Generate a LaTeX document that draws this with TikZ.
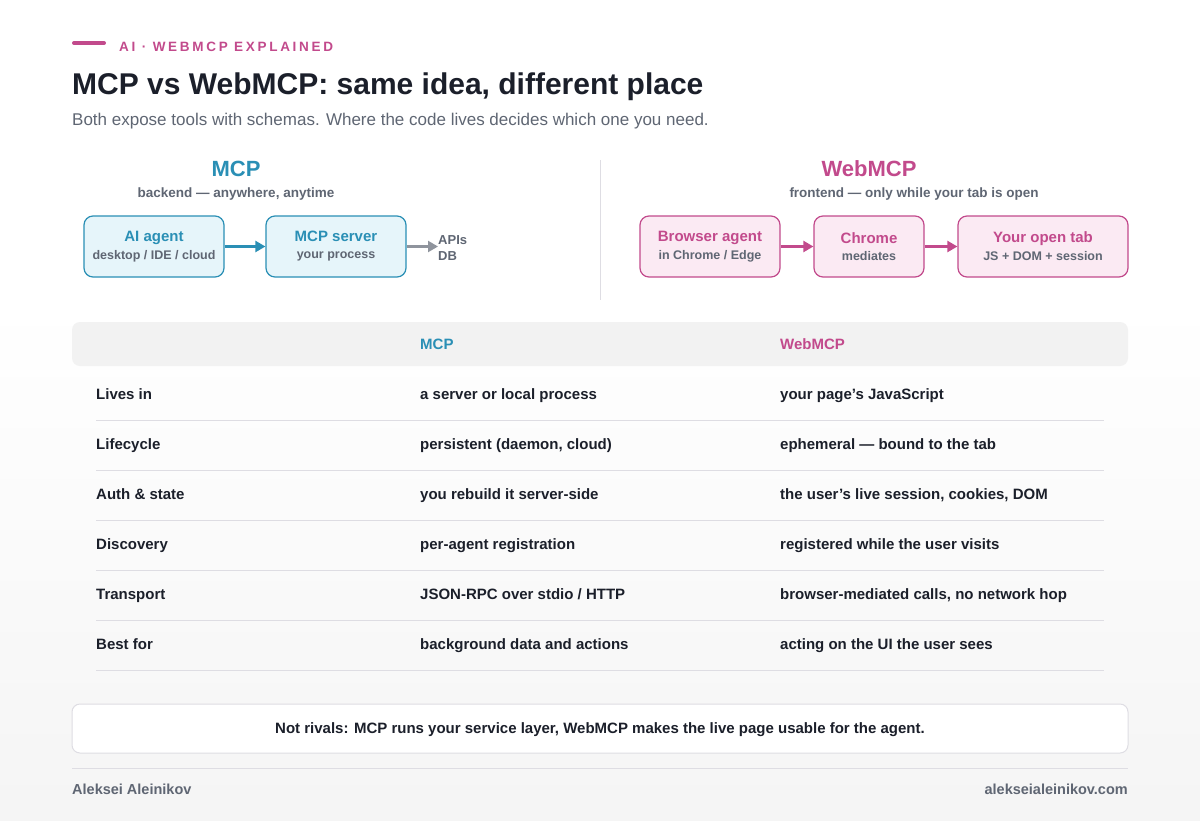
\documentclass[tikz,border=0pt]{standalone}
\usepackage{fontspec}
\setmainfont{Liberation Sans}
\newfontfamily\spaced[LetterSpace=20]{Liberation Sans}
\usetikzlibrary{positioning,arrows.meta}
\definecolor{ink}{HTML}{1B1F2A}
\definecolor{grey}{HTML}{5F6673}
\definecolor{teal}{HTML}{2A8FB5}
\definecolor{tealbg}{HTML}{E6F5FA}
\definecolor{pink}{HTML}{C24A8C}
\definecolor{pinkbg}{HTML}{FBEAF3}
\definecolor{rule}{HTML}{DEDDE3}
\tikzset{
  box/.style={draw=#1, line width=1.2pt, rounded corners=9pt, minimum height=61pt, align=center, inner sep=0pt},
  flow/.style={-{Triangle[length=10pt,width=11pt]}, line width=2.2pt},
  cell/.style={anchor=west, font=\bfseries\fontsize{15}{18}\selectfont, text=ink, inner sep=0pt, text height=11pt, text depth=3pt},
}
\begin{document}
\begin{tikzpicture}[x=1pt,y=-1pt]
  \fill[white] (0,0) rectangle (1200,820);
  \shade[top color=white, bottom color=black!4!white] (0,300) rectangle (1200,820);
  \useasboundingbox (0,0) rectangle (1200,820);

  % header
  \draw[pink, line width=4pt, line cap=round] (74,43) -- (104,43);
  \node[anchor=west, text=pink, font=\spaced\bfseries\fontsize{13.5}{16}\selectfont, inner sep=0pt] (kicker) at (119,47) {AI · WEBMCP EXPLAINED};
  \node[anchor=west, text=ink, font=\bfseries\fontsize{30}{36}\selectfont, inner sep=0pt] (title) at (72,87) {MCP vs WebMCP: same idea, different place};
  \node[anchor=west, text=grey, font=\fontsize{17}{20}\selectfont, inner sep=0pt] (sub) at (72,121) {Both expose tools with schemas. Where the code lives decides which one you need.};

  % MCP side
  \node[text=teal, font=\bfseries\fontsize{22}{26}\selectfont] (mcph) at (236,169) {MCP};
  \node[text=grey, font=\bfseries\fontsize{13.5}{16}\selectfont] (mcps) at (236,194) {backend — anywhere, anytime};
  \node[box=teal, fill=tealbg, minimum width=140pt] (agent) at (154,246.5) {{\color{teal}\bfseries\fontsize{15}{18}\selectfont AI agent}\\[5pt]{\color{grey}\bfseries\fontsize{12.5}{15}\selectfont desktop / IDE / cloud}};
  \node[box=teal, fill=tealbg, minimum width=140pt] (server) at (336,246.5) {{\color{teal}\bfseries\fontsize{15}{18}\selectfont MCP server}\\[5pt]{\color{grey}\bfseries\fontsize{12.5}{15}\selectfont your process}};
  \node[anchor=west, align=left, text=grey, font=\bfseries\fontsize{13}{16}\selectfont, inner sep=0pt] (apis) at (438,248) {APIs\\DB};
  \draw[flow, teal] (agent) -- (server);
  \draw[flow, grey!70] (server.east) -- (server.east -| apis.west);

  \draw[rule, line width=1pt] (600,160) -- (600,300);

  % WebMCP side
  \node[text=pink, font=\bfseries\fontsize{22}{26}\selectfont] (webh) at (869,169) {WebMCP};
  \node[text=grey, font=\bfseries\fontsize{13.5}{16}\selectfont] (webs) at (914,194) {frontend — only while your tab is open};
  \node[box=pink, fill=pinkbg, minimum width=140pt] (browser) at (710,246.5) {{\color{pink}\bfseries\fontsize{15}{18}\selectfont Browser agent}\\[5pt]{\color{grey}\bfseries\fontsize{12.5}{15}\selectfont in Chrome / Edge}};
  \node[box=pink, fill=pinkbg, minimum width=110pt] (chrome) at (869,246.5) {{\color{pink}\bfseries\fontsize{15}{18}\selectfont Chrome}\\[5pt]{\color{grey}\bfseries\fontsize{12.5}{15}\selectfont mediates}};
  \node[box=pink, fill=pinkbg, minimum width=170pt] (tab) at (1043,246.5) {{\color{pink}\bfseries\fontsize{15}{18}\selectfont Your open tab}\\[5pt]{\color{grey}\bfseries\fontsize{12.5}{15}\selectfont JS + DOM + session}};
  \draw[flow, pink] (browser) -- (chrome);
  \draw[flow, pink] (chrome) -- (tab);

  % table
  \fill[black!5!white, rounded corners=8pt] (72,322) rectangle (1128,366);
  \node[cell, text=teal] (colmcp) at (420,345) {MCP};
  \node[cell, text=pink] (colweb) at (780,345) {WebMCP};
  \foreach \y/\a/\b/\c in {
    395/Lives in/a server or local process/your page’s JavaScript,
    445/Lifecycle/{persistent (daemon, cloud)}/ephemeral — bound to the tab,
    495/Auth \& state/you rebuild it server-side/{the user’s live session, cookies, DOM},
    545/Discovery/per-agent registration/registered while the user visits,
    595/Transport/{JSON-RPC over stdio {/} HTTP}/{browser-mediated calls, no network hop},
    645/Best for/background data and actions/acting on the UI the user sees} {
    \node[cell] (row\y) at (96,\y) {\a};
    \node[cell] at (420,\y) {\b};
    \node[cell] at (780,\y) {\c};
    \draw[rule, line width=1pt] (96,\y+25) -- (1104,\y+25);
  }

  % footer
  \draw[rule, fill=white, line width=1pt, rounded corners=8pt] (72,704) rectangle (1128,753);
  \node[text=ink, font=\bfseries\fontsize{15}{18}\selectfont] (note) at (600,730) {Not rivals: MCP runs your service layer, WebMCP makes the live page usable for the agent.};
  \draw[rule, line width=1pt] (72,768) -- (1128,768);
  \node[anchor=west, text=grey, font=\bfseries\fontsize{14.5}{17}\selectfont, inner sep=0pt] (author) at (72,789) {Aleksei Aleinikov};
  \node[anchor=east, text=grey, font=\bfseries\fontsize{14.5}{17}\selectfont, inner sep=0pt] (site) at (1128,789) {alekseialeinikov.com};
\end{tikzpicture}
\end{document}
